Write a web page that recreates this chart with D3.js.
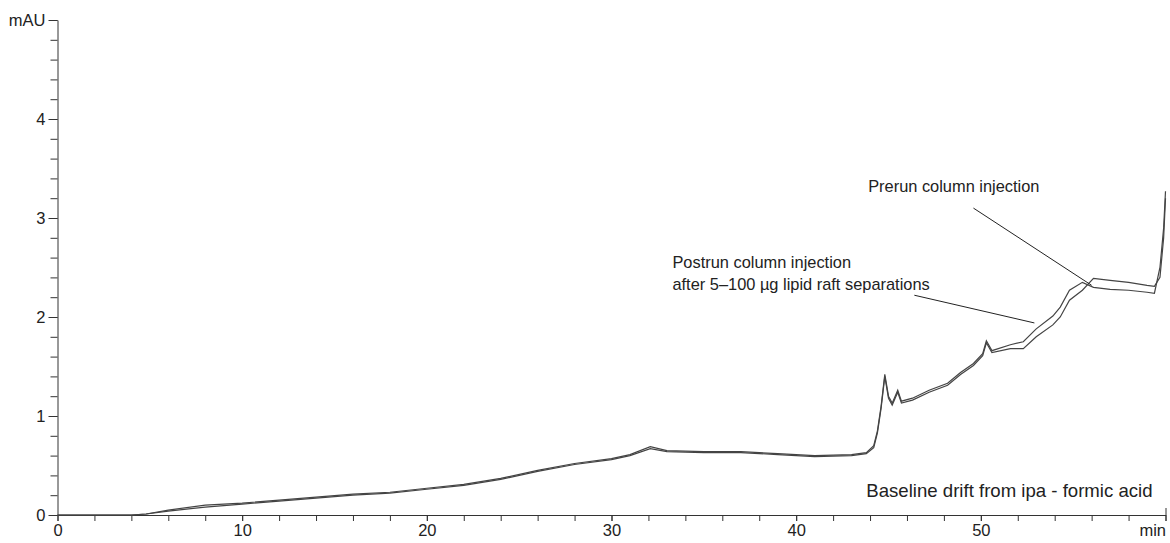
<!DOCTYPE html>
<html lang="en">
<head>
    <meta charset="UTF-8">
    <title>Baseline drift chromatogram</title>
    <script src="https://d3js.org/d3.v7.min.js"></script>
    <style>
        body {
            margin: 0;
            background-color: white;
        }
        svg text {
            font-family: "Liberation Sans", Arial, sans-serif;
            fill: #222;
        }
        .axis path, .axis line {
            stroke: #333;
        }
        .trace {
            fill: none;
            stroke: #444;
            stroke-width: 1.2;
        }
    </style>
</head>
<body>
    <div id="chart"></div>
    <script>
        // retention time (min) and absorbance (mAU)
        const times = [0, 2, 4, 4.8, 6, 8, 10, 12, 14, 16, 18, 20, 22, 24, 26, 28, 30, 31, 32.1, 33, 35, 37, 39, 41, 43,
            43.8, 44.2, 44.4, 44.6, 44.8, 45.0, 45.2, 45.5, 45.7, 46.3, 47.2, 48.2, 48.9, 49.6, 50.1, 50.3, 50.6,
            51.6, 52.3, 53.0, 53.9, 54.3, 54.8, 55.5, 56.1, 57, 58, 59, 59.4, 59.7, 59.9, 60];
        const postrun = [0, 0, 0, 0.01, 0.05, 0.1, 0.12, 0.15, 0.18, 0.21, 0.23, 0.27, 0.31, 0.37, 0.45, 0.52, 0.57, 0.61, 0.69, 0.65, 0.64, 0.64, 0.62, 0.6, 0.61,
            0.63, 0.7, 0.85, 1.1, 1.42, 1.2, 1.13, 1.26, 1.15, 1.18, 1.26, 1.33, 1.44, 1.53, 1.63, 1.76, 1.66,
            1.72, 1.75, 1.88, 2.01, 2.1, 2.27, 2.35, 2.3, 2.28, 2.27, 2.25, 2.24, 2.5, 2.9, 3.27];
        const prerun = [0, 0, 0, 0.01, 0.04, 0.08, 0.11, 0.14, 0.17, 0.2, 0.22, 0.26, 0.3, 0.36, 0.44, 0.51, 0.56, 0.6, 0.67, 0.64, 0.63, 0.63, 0.61, 0.59, 0.6,
            0.62, 0.68, 0.83, 1.08, 1.4, 1.18, 1.11, 1.24, 1.13, 1.16, 1.24, 1.31, 1.42, 1.51, 1.61, 1.74, 1.64,
            1.68, 1.68, 1.8, 1.92, 2.0, 2.17, 2.27, 2.39, 2.37, 2.35, 2.32, 2.31, 2.4, 2.8, 3.2];

        const xTicks = [0, 10, 20, 30, 40, 50, 60];
        const xTickLabels = ["0", "10", "20", "30", "40", "50", "min"];
        const yTicks = [0, 1, 2, 3, 4, 5];
        const yTickLabels = ["0", "1", "2", "3", "4", "mAU"];

        // annotation text and leader lines, in data units
        const notes = [
            { lines: ["Prerun column injection"], x: 43.9, y: 3.26, from: [49.6, 3.10], to: [56.0, 2.32] },
            { lines: ["Postrun column injection", "after 5\u2013100 \u00b5g lipid raft separations"], x: 33.3, y: 2.5, from: [46.4, 2.22], to: [52.9, 1.94] },
            { lines: ["Baseline drift from ipa - formic acid"], x: 43.8, y: 0.18 }
        ];

        const width = 1170;
        const height = 543;

        const x = d3.scaleLinear().domain([0, 60]).range([57.5, 1165.5]);
        const y = d3.scaleLinear().domain([0, 5]).range([515, 20]);

        const svg = d3.select("#chart").append("svg")
            .attr("width", width)
            .attr("height", height);

        // minor ticks
        svg.append("g")
            .attr("class", "axis")
            .attr("transform", `translate(0,${y(0)})`)
            .call(d3.axisBottom(x).tickValues(d3.range(0, 61, 2)).tickSize(6).tickFormat(""))
            .call(g => g.select(".domain").remove());
        svg.append("g")
            .attr("class", "axis")
            .attr("transform", `translate(${x(0)},0)`)
            .call(d3.axisLeft(y).tickValues(d3.range(0, 5.01, 0.2)).tickSize(7).tickFormat(""))
            .call(g => g.select(".domain").remove());

        // major ticks
        svg.append("g")
            .attr("class", "axis")
            .attr("transform", `translate(0,${y(0)})`)
            .call(d3.axisBottom(x).tickValues(xTicks).tickSize(6).tickSizeOuter(0).tickPadding(3)
                .tickFormat((d, i) => xTickLabels[i]))
            .call(g => g.selectAll("text").style("font-size", "16.5px"))
            .call(g => g.select(".tick:last-of-type text").attr("text-anchor", "end").attr("x", 0))
            .call(g => g.select(".tick:last-of-type line").attr("y1", -7));
        svg.append("g")
            .attr("class", "axis")
            .attr("transform", `translate(${x(0)},0)`)
            .call(d3.axisLeft(y).tickValues(yTicks).tickSize(9).tickSizeOuter(0).tickPadding(3)
                .tickFormat((d, i) => yTickLabels[i]))
            .call(g => g.selectAll("text").style("font-size", "16.5px"));

        const line = d3.line()
            .x((d, i) => x(times[i]))
            .y(d => y(d));

        svg.append("path").attr("class", "trace").attr("d", line(prerun));
        svg.append("path").attr("class", "trace").attr("d", line(postrun));

        // annotations
        notes.forEach(n => {
            const t = svg.append("text")
                .attr("x", x(n.x))
                .attr("y", y(n.y))
                .style("font-size", n.from ? "16.4px" : "18.6px");
            n.lines.forEach((s, i) => {
                t.append("tspan")
                    .attr("x", x(n.x))
                    .attr("dy", i === 0 ? 0 : 22)
                    .text(s);
            });
            if (n.from) {
                svg.append("line")
                    .attr("x1", x(n.from[0])).attr("y1", y(n.from[1]))
                    .attr("x2", x(n.to[0])).attr("y2", y(n.to[1]))
                    .attr("stroke", "#222")
                    .attr("stroke-width", 1);
            }
        });
    </script>
</body>
</html>
